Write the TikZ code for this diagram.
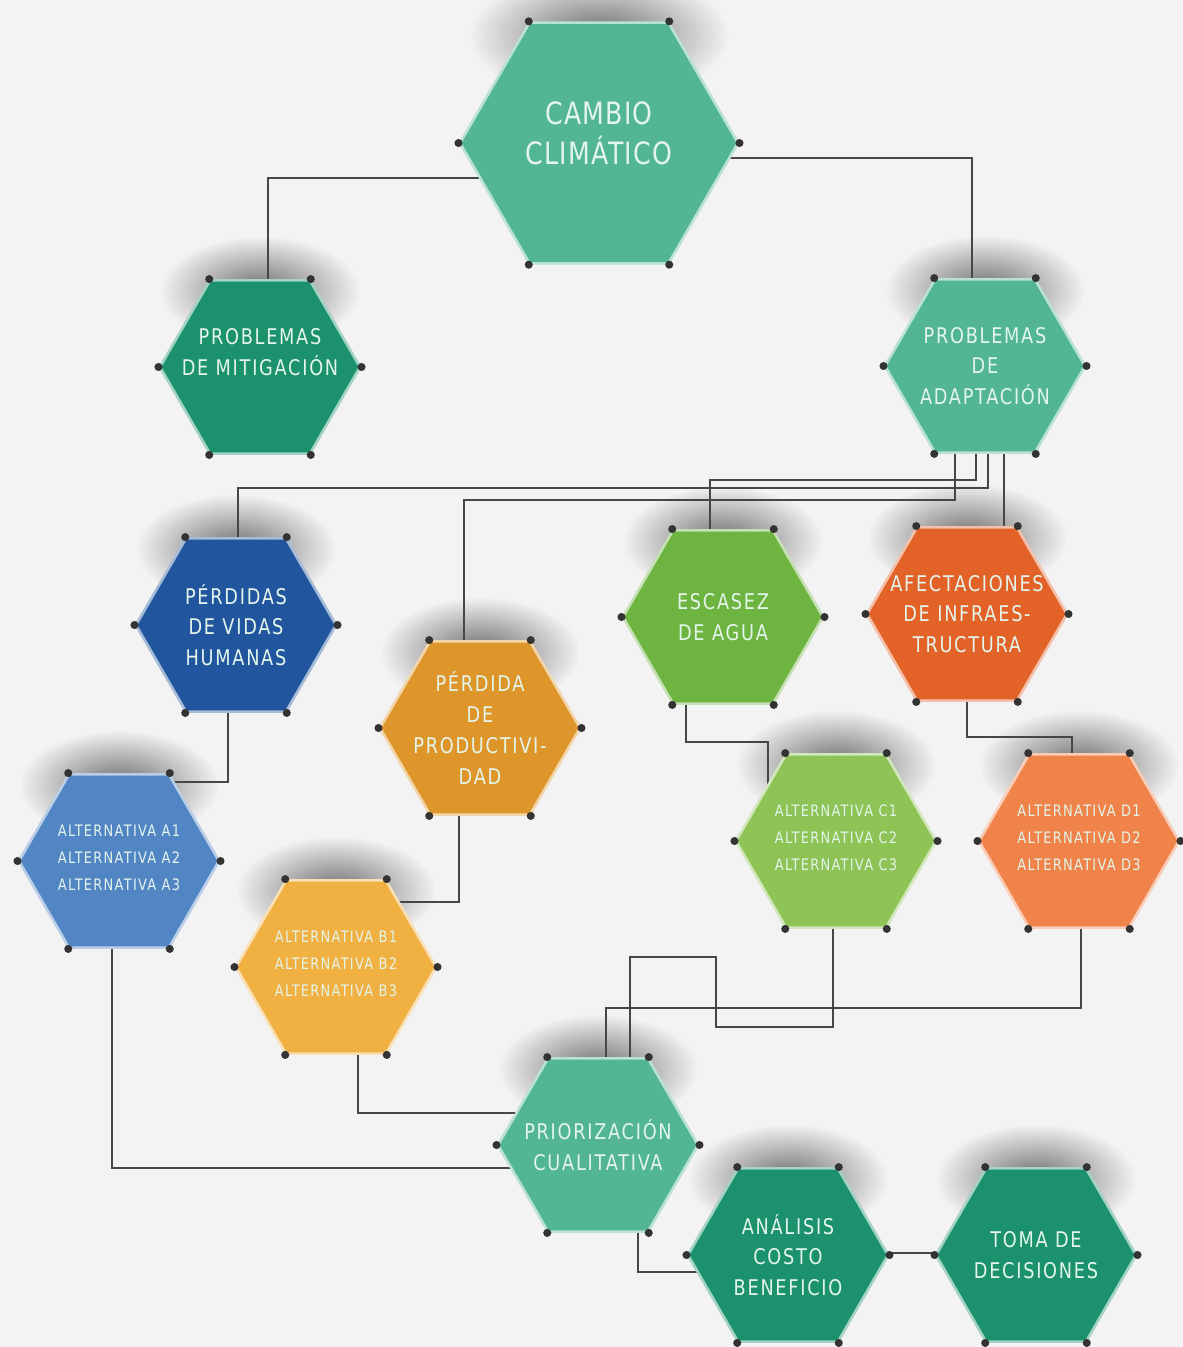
\documentclass[tikz,border=0pt]{standalone}
\usepackage{fontspec}
\newfontfamily\hexfont{DejaVu Sans}[FakeStretch = 0.82, LetterSpace = 8]
\newfontfamily\bigfont{DejaVu Sans}[FakeStretch = 0.82, LetterSpace = 4]
\usetikzlibrary{
    shapes.geometric,
    calc,
    fadings,
    backgrounds
}
\definecolor{bgcol}{RGB}{243,243,243}
\definecolor{cambio}{RGB}{82,181,150}
\definecolor{mitig}{RGB}{28,145,110}
\definecolor{vidas}{RGB}{33,86,158}
\definecolor{prod}{RGB}{222,150,42}
\definecolor{agua}{RGB}{110,180,64}
\definecolor{infra}{RGB}{226,98,40}
\definecolor{altA}{RGB}{82,133,196}
\definecolor{altB}{RGB}{240,176,66}
\definecolor{altC}{RGB}{142,195,86}
\definecolor{altD}{RGB}{240,131,74}
\definecolor{hextext}{RGB}{228,245,235}
\definecolor{linkcol}{RGB}{70,70,70}

\tikzfading[name = hexshade, inner color = transparent!45, outer color = transparent!100]

\tikzset {
    hex/.style = {
        regular polygon, regular polygon sides = 6,
        minimum size = 4cm, inner sep = 0pt,
        fill = #1, draw = #1!40!white, line width = 1.5pt
    },
    big hex/.style = {hex = #1, minimum size = 5.56cm},
    hex text/.style = {
        text = hextext, align = center,
        font = \hexfont\fontsize{12.3}{17.5}\selectfont
    },
    big text/.style = {hex text, font = \bigfont\fontsize{17.5}{22.7}\selectfont},
    small text/.style = {hex text, font = \hexfont\fontsize{9}{15.3}\selectfont},
    link/.style = {draw = linkcol, line width = 0.9pt},
    corner dot/.style = {fill = black!80},
    hex shadow/.style = {fill = black, path fading = hexshade}
}

\begin{document}
\begin{tikzpicture}[x = 0.02cm, y = -0.02cm]
    \useasboundingbox (0,0) rectangle (1183,1347);
    % hexagons
    \node [big hex = cambio, label = {[big text, yshift = 5.5pt]center:CAMBIO\\CLIMÁTICO}] (cc) at (599,143) {};
    \node [hex = mitig, label = {[hex text, yshift = 8.5pt]center:PROBLEMAS\\DE MITIGACIÓN}] (pm) at (260,367) {};
    \node [hex = cambio, label = {[hex text]center:PROBLEMAS\\DE\\ADAPTACIÓN}] (pa) at (985,366) {};
    \node [hex = vidas, label = {[hex text]center:PÉRDIDAS\\DE VIDAS\\HUMANAS}] (vh) at (236,625) {};
    \node [hex = prod, label = {[hex text]center:PÉRDIDA\\DE\\PRODUCTIVI-\\DAD}] (pp) at (480,728) {};
    \node [hex = agua, label = {[hex text]center:ESCASEZ\\DE AGUA}] (ea) at (723,617) {};
    \node [hex = infra, label = {[hex text]center:AFECTACIONES\\DE INFRAES-\\TRUCTURA}] (ai) at (967,614) {};
    \node [hex = altA, label = {[small text, yshift = 2pt]center:ALTERNATIVA A1\\ALTERNATIVA A2\\ALTERNATIVA A3}] (aa) at (119,861) {};
    \node [hex = altB, label = {[small text, yshift = 2pt]center:ALTERNATIVA B1\\ALTERNATIVA B2\\ALTERNATIVA B3}] (ab) at (336,967) {};
    \node [hex = altC, label = {[small text, yshift = 2pt]center:ALTERNATIVA C1\\ALTERNATIVA C2\\ALTERNATIVA C3}] (ac) at (836,841) {};
    \node [hex = altD, label = {[small text, yshift = 2pt]center:ALTERNATIVA D1\\ALTERNATIVA D2\\ALTERNATIVA D3}] (ad) at (1079,841) {};
    \node [hex = cambio, label = {[hex text]center:PRIORIZACIÓN\\CUALITATIVA}] (pc) at (598,1145) {};
    \node [hex = mitig, label = {[hex text]center:ANÁLISIS\\COSTO\\BENEFICIO}] (acb) at (788,1255) {};
    \node [hex = mitig, label = {[hex text]center:TOMA DE\\DECISIONES}] (td) at (1036,1255) {};
    \foreach \n in {cc, pm, pa, vh, pp, ea, ai, aa, ab, ac, ad, pc, acb, td}
        \foreach \k in {1,...,6}
            \fill [corner dot] (\n.corner \k) circle (2.3pt);
    \begin{pgfonlayer}{background}
        \fill [bgcol] (0,0) rectangle (1183,1347);
        \fill [hex shadow] ($(cc.north)+(0,14)$) ellipse (2.6cm and 1.3cm);
        \foreach \n in {pm, pa, vh, pp, ea, ai, aa, ab, ac, ad, pc, acb, td}
            \fill [hex shadow] ($(\n.north)+(0,12)$) ellipse (2cm and 1.1cm);
        % connectors
        \draw [link] ($(cc)+(0,35)$) -| ($(pm)+(8,0)$);
        \draw [link] ($(cc)+(0,15)$) -| ($(pa)+(-13,0)$);
        \draw [link] ($(pa)+(3,0)$) |- ($(vh)+(2,-137)$) -- ($(vh)+(2,0)$);
        \draw [link] ($(pa)+(-30,0)$) |- ($(pp)+(-16,-228)$) -- ($(pp)+(-16,0)$);
        \draw [link] ($(pa)+(-9,0)$) |- ($(ea)+(-13,-137)$) -- ($(ea)+(-13,0)$);
        \draw [link] ($(pa)+(19,0)$) -- ($(ai)+(37,0)$);
        \draw [link] ($(vh)+(-8,0)$) |- ($(aa)+(0,-79)$);
        \draw [link] ($(pp)+(-21,0)$) |- ($(ab)+(0,-65)$);
        \draw [link] ($(ea)+(-37,0)$) |- ($(ac)+(-68,-99)$) -- ($(ac)+(-68,0)$);
        \draw [link] (ai) |- ($(ad)+(-7,-104)$) -- ($(ad)+(-7,0)$);
        \draw [link] ($(aa)+(-7,0)$) |- ($(pc)+(0,23)$);
        \draw [link] ($(ab)+(22,0)$) |- ($(pc)+(0,-32)$);
        \draw [link] ($(ac)+(-3,0)$) |- ($(pc)+(118,-118)$) |- ($(pc)+(32,-188)$) -- ($(pc)+(32,0)$);
        \draw [link] ($(ad)+(2,0)$) |- ($(pc)+(8,-137)$) -- ($(pc)+(8,0)$);
        \draw [link] ($(pc)+(40,0)$) |- ($(acb)+(0,17)$);
        \draw [link] ($(acb)+(0,-2)$) -- ($(td)+(0,-2)$);
    \end{pgfonlayer}
\end{tikzpicture}
\end{document}
